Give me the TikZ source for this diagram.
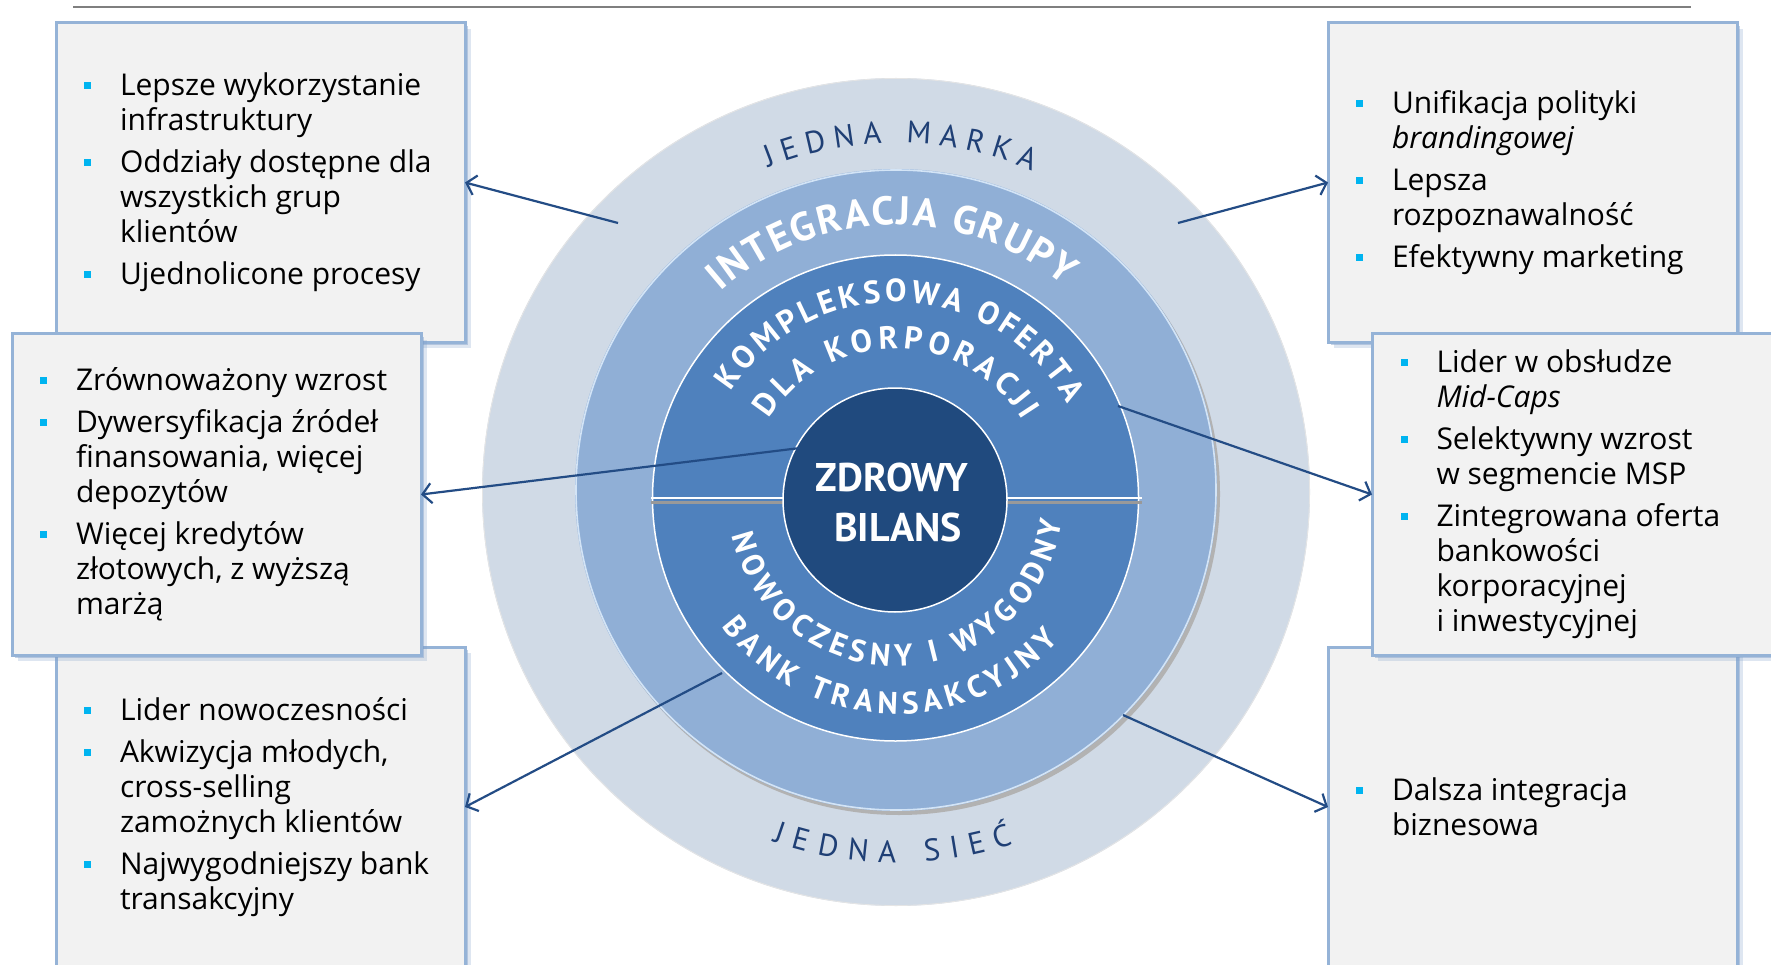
\documentclass[tikz,border=0pt]{standalone}
\usepackage{fontspec}
\setmainfont{Open Sans}
\newfontfamily\ringfont{PT Sans}
\usetikzlibrary{decorations.text,arrows.meta,shadows}
\definecolor{boxfill}{HTML}{F2F2F2}
\definecolor{boxline}{HTML}{95B3D7}
\definecolor{shadc}{HTML}{7F9FC8}
\definecolor{bul}{HTML}{00B4F0}
\definecolor{arr}{HTML}{234C85}
\definecolor{rulec}{HTML}{7F7F7F}
\definecolor{glowA}{HTML}{D0DAE6}
\definecolor{glowB}{HTML}{C9D4E2}
\definecolor{glowC}{HTML}{DAE3ED}
\definecolor{glowD}{HTML}{EDF2F7}
\definecolor{midring}{HTML}{90AFD6}
\definecolor{inring}{HTML}{4F81BD}
\definecolor{core}{HTML}{204A7E}
\definecolor{ringtxt}{HTML}{1F3F75}
\definecolor{hilite}{HTML}{E4F2FF}
\pgfdeclareradialshading{ringglow}{\pgfpoint{0bp}{0bp}}{color(0bp)=(glowA); color(39bp)=(glowA); color(41bp)=(glowA); color(44.5bp)=(glowB); color(47bp)=(glowC); color(49bp)=(glowD); color(50bp)=(white)}
\newlength\bind \setlength\bind{36pt}
\newcommand\bsq{\textcolor{bul}{\rule[6.5pt]{7pt}{7pt}}}
\newcommand\bitem[1]{\par\noindent\hangindent=\bind\hangafter=1\makebox[\bind][l]{\bsq}#1\par}
\newcommand\blist[2]{\makebox[#1][l]{\begin{minipage}{500pt}\fontsize{30}{35}\selectfont\rightskip=0pt plus 1fil\setlength\parskip{7pt}#2\end{minipage}}}
\tikzset{
  infobox/.style={draw=boxline, line width=3pt, fill=boxfill, inner sep=0pt, outer sep=0pt,
    drop shadow={shadow xshift=3pt, shadow yshift=-3pt, fill=shadc, opacity=.45},
    drop shadow={shadow xshift=6pt, shadow yshift=-6pt, fill=shadc, opacity=.25}},
  conn/.style={draw=arr, line width=2.2pt, -{Straight Barb[length=9pt, width=20pt]}},
  bigtxt/.style={text=white, font=\ringfont\fontsize{40}{40}\selectfont\bfseries, inner sep=0pt, anchor=base}
}
\begin{document}
\begin{tikzpicture}[x=1pt,y=1pt]
\useasboundingbox (0,0) rectangle (1771,-965);
\clip (0,0) rectangle (1771,-965);
\fill[white] (0,0) rectangle (1771,-965);
% top rule
\draw[rulec, line width=2.5pt] (73,-7) -- (1691,-7);
% circle
\shade[shading=ringglow] (896,-492) circle (414);
\draw[gray!20, line width=0.8pt] (896,-492) circle (413.5);
\fill[gray!60] (899,-494) circle (321);
\fill[midring] (896,-490) circle (321);
\draw[hilite, opacity=.8, line width=1.6pt] (896,-490) circle (320);
\fill[inring] (895.5,-498) circle (243);
\draw[white, line width=1.5pt] (895.5,-498) circle (243);
\draw[white, line width=2.5pt] (651,-498) -- (1142,-498);
\draw[gray!80, line width=2.5pt] (651,-502.5) -- (1142,-502.5);
\node[circle, fill=core, draw=white, line width=1.5pt, minimum size=224pt, inner sep=0pt] (core) at (895,-500) {};
\node[bigtxt] (zd) at (892,-491) {ZDROWY};
\node[bigtxt] (bi) at (898,-541) {BILANS};
% ring texts
\path[decorate, decoration={text along path, text align=fit to path, text color=ringtxt,
  text={|\ringfont\fontsize{31}{31}\selectfont|JEDNA MARKA}}]
  (896,-492) ++(111.5:349) arc[start angle=111.5, end angle=67, radius=349];
\path[decorate, decoration={text along path, text align=fit to path, text color=ringtxt,
  text={|\ringfont\fontsize{31}{31}\selectfont|JEDNA SIEĆ}}]
  (896,-492) ++(250.5:371) arc[start angle=250.5, end angle=288.5, radius=371];
\path[decorate, decoration={text along path, text align=fit to path, text color=white,
  text={|\ringfont\fontsize{40}{40}\selectfont\bfseries|INTEGRACJA GRUPY}}]
  (896,-490) ++(131.5:265) arc[start angle=131.5, end angle=50.5, radius=265];
\path[decorate, decoration={text along path, text align=fit to path, text color=white,
  text={|\ringfont\fontsize{32}{32}\selectfont\bfseries|KOMPLEKSOWA OFERTA}}]
  (895.5,-498) ++(147:196) arc[start angle=147, end angle=28.5, radius=196];
\path[decorate, decoration={text along path, text align=fit to path, text color=white,
  text={|\ringfont\fontsize{32}{32}\selectfont\bfseries|DLA KORPORACJI}}]
  (895.5,-498) ++(148:149) arc[start angle=148, end angle=31.5, radius=149];
\path[decorate, decoration={text along path, text align=fit to path, text color=white,
  text={|\ringfont\fontsize{31}{31}\selectfont\bfseries|NOWOCZESNY I WYGODNY}}]
  (895.5,-498) ++(193:168) arc[start angle=193, end angle=352, radius=168];
\path[decorate, decoration={text along path, text align=fit to path, text color=white,
  text={|\ringfont\fontsize{31}{31}\selectfont\bfseries|BANK TRANSAKCYJNY}}]
  (895.5,-498) ++(216.5:216) arc[start angle=216.5, end angle=319, radius=216];
% boxes
\node[infobox, minimum width=409pt, minimum height=319pt] (tl) at (260.5,-182.5) {\blist{353pt}{%
\bitem{Lepsze wykorzystanie\\infrastruktury}
\bitem{Oddziały dostępne dla\\wszystkich grup\\klientów}
\bitem{Ujednolicone procesy}}};
\node[infobox, minimum width=409pt, minimum height=320pt] (bl) at (260.5,-807) {\blist{353pt}{%
\bitem{Lider nowoczesności}
\bitem{Akwizycja młodych,\\cross-selling\\zamożnych klientów}
\bitem{Najwygodniejszy bank\\transakcyjny}}};
\node[infobox, minimum width=409pt, minimum height=319pt] (tr) at (1532.5,-182.5) {\blist{353pt}{%
\bitem{Unifikacja polityki\\\textit{brandingowej}}
\bitem{Lepsza\\rozpoznawalność}
\bitem{Efektywny marketing}}};
\node[infobox, minimum width=409pt, minimum height=320pt] (br) at (1532.5,-807) {\blist{353pt}{%
\bitem{Dalsza integracja\\biznesowa}}};
\node[infobox, minimum width=409pt, minimum height=321pt] (ml) at (216.5,-494.5) {\blist{353pt}{%
\bitem{Zrównoważony wzrost}
\bitem{Dywersyfikacja źródeł\\finansowania, więcej\\depozytów}
\bitem{Więcej kredytów\\złotowych, z wyższą\\marżą}}};
\node[infobox, minimum width=428pt, minimum height=321pt] (mr) at (1586,-494.5) {\blist{371pt}{%
\bitem{Lider w obsłudze\\\textit{Mid-Caps}}
\bitem{Selektywny wzrost\\w segmencie MSP}
\bitem{Zintegrowana oferta\\bankowości\\korporacyjnej\\i inwestycyjnej}}};
% connectors
\coordinate (sTL) at (618,-223);
\coordinate (sTR) at (1178,-223);
\coordinate (sML) at (800,-448);
\coordinate (sMR) at (1118,-406);
\coordinate (sBL) at (722,-673);
\coordinate (sBR) at (1123,-715);
\draw[conn] (sTL) -- (tl.east);
\draw[conn] (sTR) -- (tr.west);
\draw[conn] (sML) -- (ml.east);
\draw[conn] (sMR) -- (mr.west);
\draw[conn] (sBL) -- (bl.east);
\draw[conn] (sBR) -- (br.west);
\end{tikzpicture}
\end{document}
